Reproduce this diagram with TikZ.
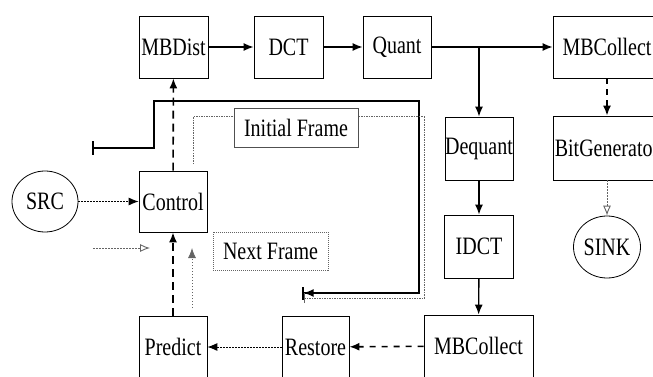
\documentclass[tikz,border=0pt]{standalone}
\usepackage{fontspec}
\setmainfont{Liberation Serif}
\usetikzlibrary{shapes,arrows.meta}
\definecolor{framegray}{RGB}{80,80,80}
\definecolor{dotgray}{RGB}{100,100,100}
\newcommand{\lbl}[1]{\scalebox{0.8}[1]{#1}}

\begin{document}
\begin{tikzpicture}[x=1pt, y=-1pt,
    font=\fontsize{25}{28}\selectfont,
    blk/.style={rectangle, draw, line width=0.8pt,
                minimum width=68pt, minimum height=62pt, inner sep=0pt},
    term/.style={ellipse, draw, line width=0.8pt,
                 minimum width=67pt, minimum height=62pt, inner sep=0pt},
    framelbl/.style={rectangle, fill=white, inner sep=0pt, minimum height=38pt},
    tip/.style={-{Latex[length=10pt,width=8pt]}},
    flow/.style={tip, line width=1.4pt},
    ctrlflow/.style={tip, line width=1.6pt, dash pattern=on 8pt off 5pt},
    dataflow/.style={tip, line width=0.9pt, dash pattern=on 1.5pt off 1.5pt},
    grayflow/.style={draw=dotgray, line width=0.9pt, dash pattern=on 1.5pt off 1.5pt,
                     -{Latex[open,length=10pt,width=8pt]}}]
  \useasboundingbox (0,0) rectangle (653,377);
  \clip (0,0) rectangle (653,377);

  % Bloques de codificacion
  \node[blk, minimum width=69pt] (mbdist) at (173.5,47) {\lbl{MBDist}};
  \node[blk, minimum width=69pt] (dct) at (288.5,47) {\lbl{DCT}};
  \node[blk] (quant) at (397,47) {\lbl{Quant}};
  \node[blk, minimum width=108pt] (mbcTop) at (607,47) {\lbl{MBCollect}};
  \node[blk, minimum width=108pt, minimum height=64pt] (bitgen) at (607,148) {\lbl{BitGenerator}};
  \node[term] (sink) at (607,247) {\lbl{SINK}};

  % Bloques de reconstruccion
  \node[blk, minimum height=63pt] (dequant) at (479,148.5) {\lbl{Dequant}};
  \node[blk, minimum width=69pt, minimum height=63pt] (idct) at (479,246.5) {\lbl{IDCT}};
  \node[blk, minimum width=109pt] (mbcBot) at (478.5,346) {\lbl{MBCollect}};
  \node[blk, minimum width=67pt] (restore) at (315.5,347) {\lbl{Restore}};
  \node[blk] (predict) at (173,347) {\lbl{Predict}};

  % Control y fuente
  \node[blk, minimum height=61pt] (control) at (173,201.5) {\lbl{Control}};
  \node[term, minimum width=66pt, minimum height=61pt] (src) at (45,201.5) {\lbl{SRC}};

  % Puntos libres
  \coordinate (inA) at (93,248);
  \coordinate (inB) at (150,248);
  \coordinate (nxA) at (192,308);
  \coordinate (nxB) at (192,248);
  \coordinate (loopA) at (92,148);
  \coordinate (loopB) at (154,101);
  \coordinate (loopC) at (419,293);
  \coordinate (loopD) at (302,293);
  \coordinate (dloopA) at (193,164);
  \coordinate (dloopB) at (424,117);
  \coordinate (dloopD) at (304,298);

  % Conectores
  \draw[flow] (mbdist) -- (dct);
  \draw[flow] (dct) -- (quant);
  \draw[flow] (quant) -- (mbcTop);
  \draw[flow] (quant.east -| dequant) -- (dequant.north);
  \draw[ctrlflow, dash pattern=on 6pt off 5pt] (mbcTop) -- (bitgen);
  \draw[grayflow] (bitgen) -- (sink);
  \draw[flow] (dequant) -- (idct);
  \draw[flow] (idct) -- (mbcBot);
  \draw[ctrlflow, dash pattern=on 6pt off 6pt] (mbcBot) -- (restore);
  \draw[dataflow] (restore) -- (predict);
  \draw[ctrlflow] (predict) -- (control);
  \draw[ctrlflow] (control) -- (mbdist);
  \draw[dataflow] (src) -- (control);
  \draw[grayflow] (inA) -- (inB);
  \draw[dataflow, draw=dotgray, line width=0.8pt] (nxA) -- (nxB);

  % Lazos de trama
  \draw[line width=1.6pt, {Bar[width=13pt]}-{Latex[length=10pt,width=8pt] Bar[width=13pt]}]
    (loopA) -| (loopB) -| (loopC) -- (loopD);
  \draw[dotgray, line width=1pt, dash pattern=on 1.5pt off 1pt, -{Bar[width=10pt]}]
    (dloopA) |- (dloopB) |- (dloopD);

  % Etiquetas
  \node[framelbl, draw=framegray, line width=0.6pt, minimum width=124pt, minimum height=39pt]
    (initlbl) at (296,127.5) {\lbl{Initial Frame}};
  \node[framelbl, draw=dotgray, line width=0.7pt, dash pattern=on 1pt off 1pt,
        minimum width=115pt] (nextlbl) at (270.5,251) {\lbl{Next Frame}};
\end{tikzpicture}
\end{document}
